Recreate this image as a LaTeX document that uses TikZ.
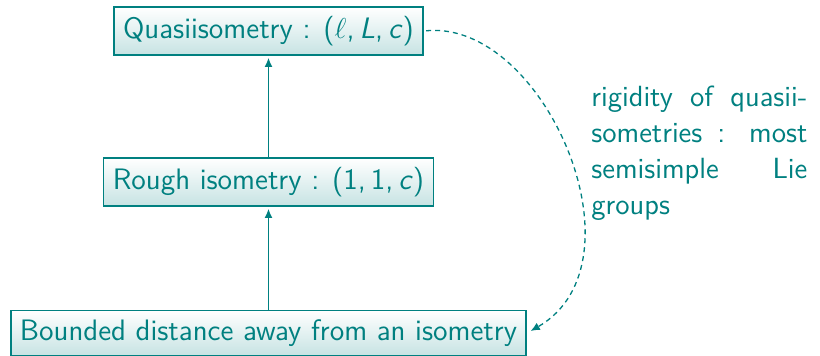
\documentclass[tikz,border=0pt]{standalone}
\usetikzlibrary{arrows.meta}
\definecolor{tl}{RGB}{0,128,128}
\begin{document}
\begin{tikzpicture}[x=0.5pt,y=-0.5pt,
  box/.style={draw=tl, line width=0.9pt, top color=white, bottom color=tl!22,
    text=tl, inner xsep=4.6pt, inner ysep=4.5pt,
    font=\sffamily\fontsize{14.8}{18}\selectfont},
  link/.style={draw=tl, line width=0.8pt, -{Latex[length=4.6pt,width=4pt]}, shorten >=1pt},
  lbl/.style={text=tl, inner sep=0pt, align=left,
    font=\sffamily\fontsize{14.6}{18}\selectfont}]
\useasboundingbox (0,0) rectangle (820,356);
\node[box] (q) at (268.5,31) {Quasiisometry : (\ensuremath{\ell},\,\textit{L},\,\textit{c})};
\node[box] (r) at (268.5,182) {Rough isometry : (1,\,1,\,\textit{c})};
\node[box] (b) at (268.5,333) {Bounded distance away from an isometry};
\draw[link] (b) -- (r);
\draw[link] (r) -- (q);
\draw[draw=tl, line width=0.65pt, dash pattern=on 2.5pt off 2pt,
  -{Latex[length=4.6pt,width=4pt]}, shorten >=2pt, shorten <=1pt]
  (q.east) .. controls +(120,-12) and +(122,-70) .. (b.east);
\node[lbl, anchor=north west] (t) at (591,86)
  {\makebox[108pt][s]{rigidity of quasii-}\\
   \makebox[108pt][s]{sometries : most}\\
   \makebox[108pt][s]{semisimple Lie}\\
   groups};
\end{tikzpicture}
\end{document}
